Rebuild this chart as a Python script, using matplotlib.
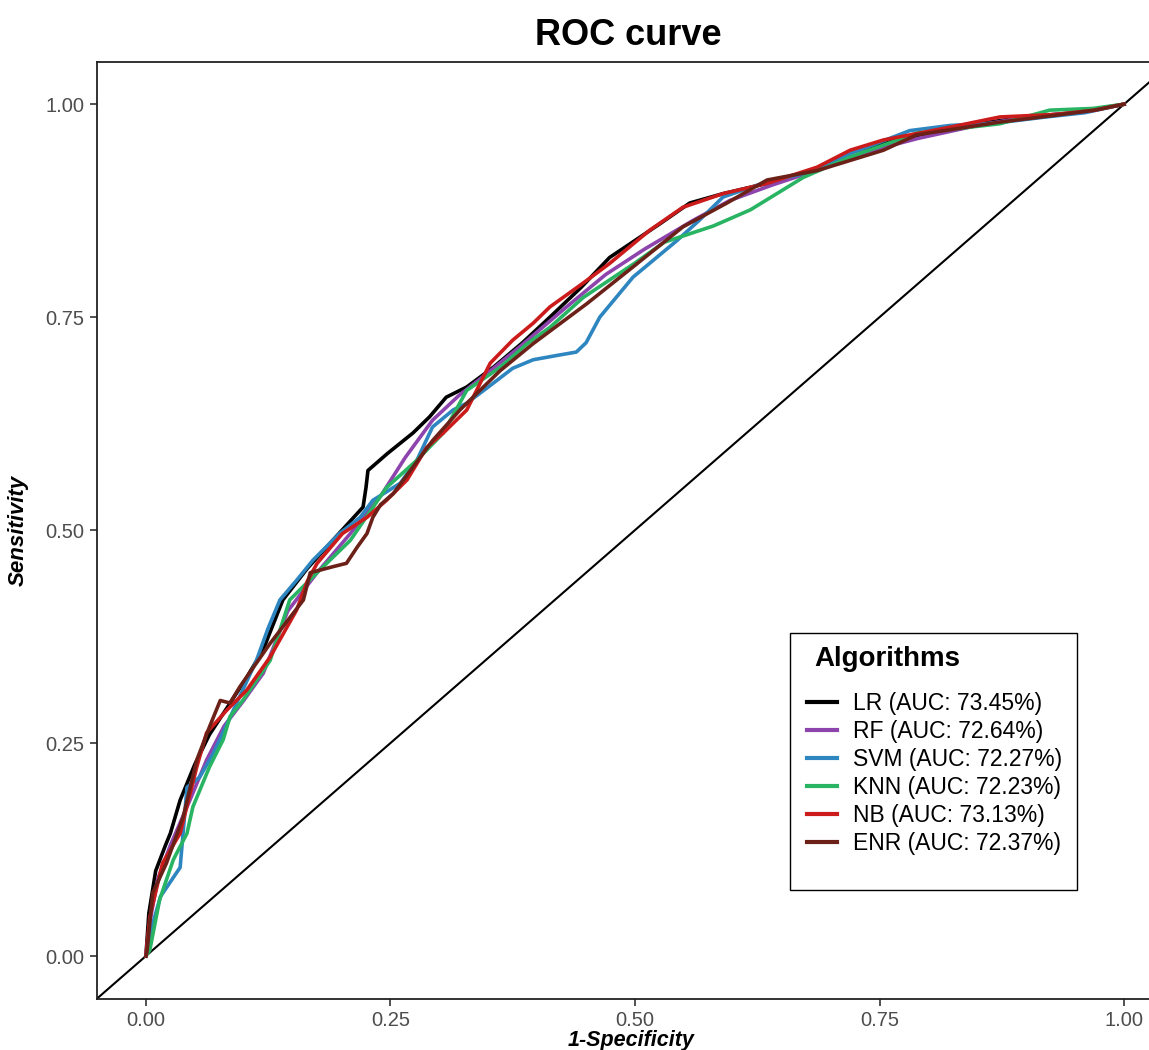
import matplotlib
matplotlib.use("Agg")
from matplotlib import pyplot as plt
from matplotlib.patches import Rectangle

# ROC points (1-specificity, sensitivity)
lr_fpr = [0, 0.003, 0.01, 0.02, 0.025, 0.035, 0.05, 0.065, 0.085, 0.103, 0.12, 0.14, 0.165, 0.191,
          0.222, 0.225, 0.227, 0.247, 0.273, 0.29, 0.307, 0.328, 0.355, 0.385, 0.413, 0.445, 0.474,
          0.5, 0.526, 0.556, 0.59, 0.635, 0.686, 0.72, 0.754, 0.80, 0.85, 0.90, 0.95, 1.0]
lr_tpr = [0, 0.05, 0.10, 0.13, 0.144, 0.183, 0.225, 0.26, 0.295, 0.327, 0.36, 0.418, 0.455, 0.488,
          0.527, 0.55, 0.57, 0.59, 0.614, 0.633, 0.656, 0.668, 0.691, 0.72, 0.75, 0.785, 0.82,
          0.84, 0.86, 0.884, 0.895, 0.907, 0.924, 0.943, 0.955, 0.966, 0.977, 0.985, 0.99, 1.0]

rf_fpr = [0, 0.004, 0.012, 0.025, 0.045, 0.062, 0.08, 0.1, 0.12, 0.145, 0.175, 0.209, 0.24, 0.265,
          0.293, 0.32, 0.35, 0.382, 0.43, 0.47, 0.51, 0.56, 0.597, 0.64, 0.69, 0.74, 0.79, 0.85,
          0.9, 0.95, 1.0]
rf_tpr = [0, 0.04, 0.09, 0.13, 0.183, 0.23, 0.27, 0.3, 0.332, 0.405, 0.45, 0.496, 0.54, 0.585,
          0.629, 0.658, 0.685, 0.715, 0.762, 0.8, 0.83, 0.864, 0.887, 0.905, 0.924, 0.945, 0.96,
          0.975, 0.985, 0.99, 1.0]

svm_fpr = [0, 0.005, 0.015, 0.035, 0.042, 0.055, 0.069, 0.09, 0.113, 0.125, 0.137, 0.154, 0.171,
           0.198, 0.219, 0.232, 0.26, 0.277, 0.293, 0.314, 0.328, 0.35, 0.375, 0.396, 0.42, 0.44,
           0.45, 0.464, 0.498, 0.543, 0.566, 0.59, 0.635, 0.686, 0.72, 0.781, 0.822, 0.87, 0.92,
           0.96, 1.0]
svm_tpr = [0, 0.03, 0.07, 0.104, 0.198, 0.21, 0.238, 0.29, 0.347, 0.385, 0.418, 0.441, 0.465,
           0.496, 0.515, 0.535, 0.555, 0.582, 0.621, 0.641, 0.649, 0.668, 0.69, 0.70, 0.705, 0.709,
           0.72, 0.75, 0.797, 0.84, 0.864, 0.891, 0.909, 0.922, 0.942, 0.969, 0.975, 0.978, 0.985,
           0.99, 1.0]

knn_fpr = [0, 0.004, 0.014, 0.028, 0.042, 0.048, 0.065, 0.079, 0.086, 0.099, 0.127, 0.147, 0.175,
           0.209, 0.246, 0.277, 0.304, 0.328, 0.362, 0.39, 0.413, 0.447, 0.498, 0.53, 0.58, 0.618,
           0.672, 0.72, 0.788, 0.873, 0.924, 0.968, 1.0]
knn_tpr = [0, 0.007, 0.066, 0.113, 0.144, 0.175, 0.222, 0.254, 0.281, 0.30, 0.347, 0.418, 0.45,
           0.488, 0.55, 0.582, 0.614, 0.664, 0.691, 0.719, 0.738, 0.773, 0.812, 0.838, 0.857, 0.876,
           0.914, 0.938, 0.966, 0.977, 0.993, 0.995, 1.0]

nb_fpr = [0, 0.004, 0.017, 0.035, 0.052, 0.062, 0.083, 0.103, 0.127, 0.154, 0.165, 0.175, 0.201,
          0.226, 0.246, 0.267, 0.287, 0.304, 0.328, 0.352, 0.375, 0.396, 0.413, 0.447, 0.474,
          0.515, 0.549, 0.59, 0.635, 0.686, 0.72, 0.754, 0.822, 0.873, 0.93, 0.97, 1.0]
nb_tpr = [0, 0.046, 0.109, 0.144, 0.222, 0.262, 0.289, 0.312, 0.351, 0.406, 0.44, 0.461, 0.496,
          0.515, 0.535, 0.559, 0.597, 0.614, 0.641, 0.696, 0.723, 0.743, 0.762, 0.79, 0.813,
          0.852, 0.879, 0.895, 0.907, 0.926, 0.946, 0.958, 0.973, 0.985, 0.988, 0.993, 1.0]

enr_fpr = [0, 0.001, 0.007, 0.021, 0.038, 0.052, 0.065, 0.076, 0.086, 0.096, 0.127, 0.161, 0.168,
           0.191, 0.205, 0.216, 0.226, 0.232, 0.24, 0.253, 0.293, 0.321, 0.362, 0.396, 0.451, 0.498,
           0.549, 0.594, 0.635, 0.686, 0.754, 0.788, 0.873, 0.93, 0.97, 1.0]
enr_tpr = [0, 0.004, 0.074, 0.109, 0.163, 0.23, 0.269, 0.30, 0.297, 0.316, 0.367, 0.418, 0.45,
           0.457, 0.461, 0.48, 0.496, 0.515, 0.53, 0.543, 0.605, 0.641, 0.687, 0.719, 0.766, 0.809,
           0.856, 0.884, 0.911, 0.922, 0.946, 0.964, 0.979, 0.987, 0.993, 1.0]

models = ["LR", "RF", "SVM", "KNN", "NB", "ENR"]
auc = [73.45, 72.64, 72.27, 72.23, 73.13, 72.37]
colors = ["#000000", "#8E44AD", "#2E86C1", "#28B463", "#CB1B1B", "#6B2118"]
curves = [(lr_fpr, lr_tpr), (rf_fpr, rf_tpr), (svm_fpr, svm_tpr),
          (knn_fpr, knn_tpr), (nb_fpr, nb_tpr), (enr_fpr, enr_tpr)]

plt.rcParams["font.family"] = ["Liberation Sans", "DejaVu Sans"]

fig = plt.figure(figsize=(11.49, 10.5), dpi=100)
# panel runs past the right edge of the picture, as in the reference
ax = fig.add_axes([97 / 1149, 51.4 / 1050, 1076 / 1149, 937 / 1050])

ax.axline((0, 0), (1, 1), color="black", lw=1.5, zorder=1)
for name, a, c, (fpr, tpr) in zip(models, auc, colors, curves):
    ax.plot(fpr, tpr, color=c, lw=2.6, label=f"{name} (AUC: {a:.2f}%)", zorder=2)

ax.set_xlim(-0.05, 1.05)
ax.set_ylim(-0.05, 1.05)
ticks = [0, 0.25, 0.5, 0.75, 1.0]
ax.set_xticks(ticks)
ax.set_yticks(ticks)
ax.set_xticklabels([f"{t:.2f}" for t in ticks])
ax.set_yticklabels([f"{t:.2f}" for t in ticks])
ax.tick_params(axis="both", labelsize=14.5, labelcolor="#4D4D4D", color="#333333",
               length=5, width=1.2, pad=4)
for side in ["left", "bottom", "top", "right"]:
    ax.spines[side].set_linewidth(1.3)
    ax.spines[side].set_color("#222222")

fig.text(0.547, 0.966, "ROC curve", ha="center", va="center", fontsize=26, fontweight="bold")
fig.text(0.549, 0.009, "1-Specificity", ha="center", va="center", fontsize=15.5,
         fontweight="bold", fontstyle="italic")
fig.text(0.016, 0.495, "Sensitivity", ha="center", va="center", rotation=90, fontsize=16,
         fontweight="bold", fontstyle="italic")

# legend: frame, title and entries placed separately to get ggplot spacing
ax.add_patch(Rectangle((0.644, 0.116), 0.267, 0.274, transform=ax.transAxes,
                       facecolor="white", edgecolor="black", lw=1.0, zorder=5))
ax.text(0.667, 0.3624, "Algorithms", transform=ax.transAxes, ha="left", va="center",
        fontsize=20, fontweight="bold", zorder=6)
leg = ax.legend(loc="upper left", bbox_to_anchor=(0.660, 0.327), frameon=False,
                fontsize=16.5, handlelength=1.3, handletextpad=0.7, labelspacing=0.22,
                borderpad=0, borderaxespad=0)
leg.set_zorder(7)
for line in leg.get_lines():
    line.set_linewidth(3)

fig.savefig("out.png", dpi=100)
